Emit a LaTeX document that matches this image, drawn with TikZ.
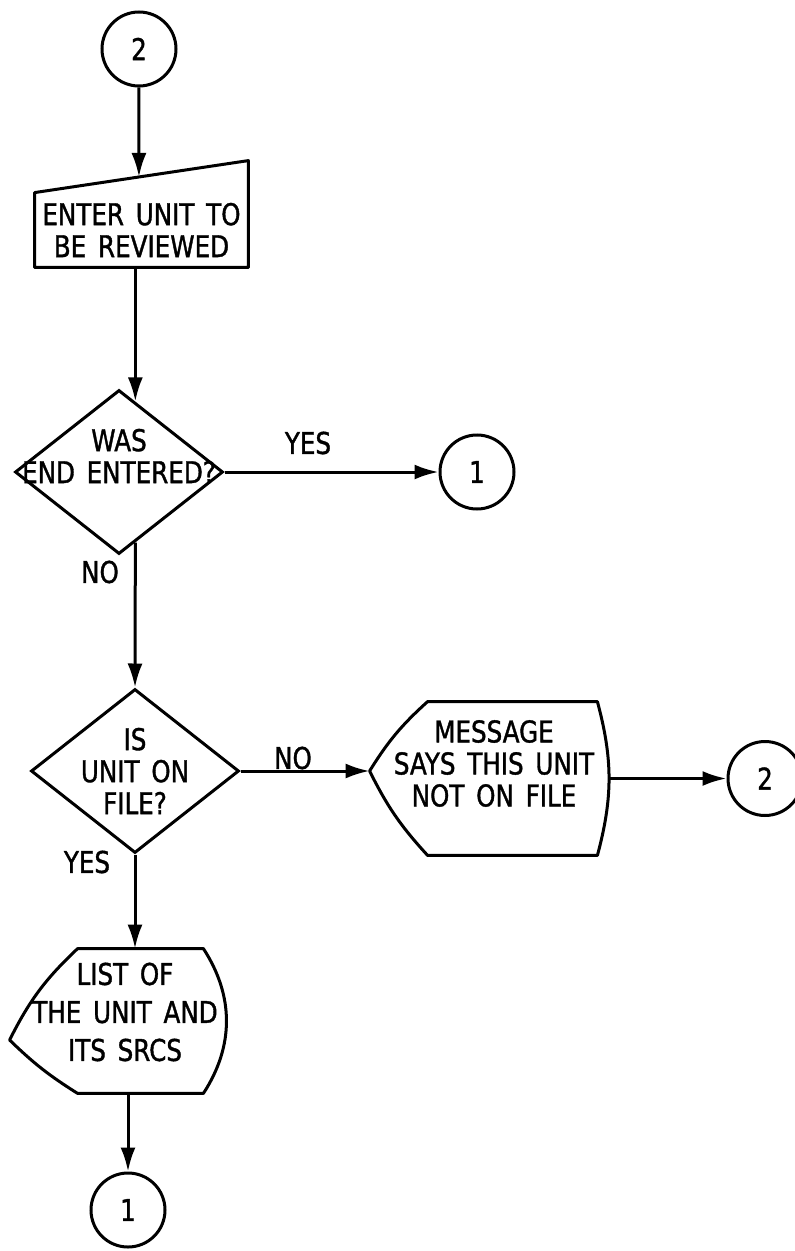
\documentclass[tikz,border=0pt]{standalone}
\usepackage{fontspec}
\newfontfamily\flowfont[FakeStretch=0.82,FakeBold=1.2,WordSpace=1.5]{DejaVu Sans}
\usetikzlibrary{arrows.meta,calc,shapes.geometric}

\begin{document}
\begin{tikzpicture}[x=0.5pt,y=0.5pt,
    flow/.style={-{Latex[length=12pt,width=7.5pt]}, line width=1.5pt},
    txt/.style={font=\flowfont\fontsize{15pt}{16pt}\selectfont, align=center, inner sep=0pt},
    conn/.style={txt, circle, draw, line width=1.5pt, minimum size=37pt},
    decision/.style={diamond, draw, line width=1.5pt, minimum width=104pt, minimum height=82pt, inner sep=0pt},
    outline/.style={line width=1.5pt, line join=round}]
  \useasboundingbox (0,0) rectangle (795,-1251);

  \node[conn] (top2) at (139,-49) {2};

  \node[txt, minimum width=106.5pt, minimum height=37pt] (enter) at (141.5,-230) {ENTER UNIT TO\\BE REVIEWED};
  \coordinate (enter-tr) at ($(enter.north east)+(0,32)$);
  \draw[outline] (enter.south west) -- (enter.north west) -- (enter-tr) -- (enter.south east) -- cycle;
  \coordinate (enter-in) at ($(enter.north west)!0.488!(enter-tr)$);

  \node[decision, label={[txt, yshift=8pt]center:WAS\\END ENTERED?}] (was) at (119,-472) {};
  \coordinate (was-in) at ($(was.north)!0.155!(was.east)$);
  \coordinate (was-out) at ($(was.south)!0.155!(was.east)$);
  \node[conn] (one-a) at (477,-472) {1};
  \node[txt] (yes-a) at (308,-443) {YES};
  \node[txt] (no-a) at (100,-572) {NO};

  \node[decision, label={[txt]center:IS\\UNIT ON\\FILE?}] (isunit) at (135,-771) {};
  \node[txt] (no-b) at (293,-758) {NO};
  \node[txt] (yes-b) at (87,-862) {YES};

  \node[minimum width=84.5pt, minimum height=76.5pt, inner sep=0pt,
    label={[txt, xshift=-9.25pt, yshift=7.5pt]center:MESSAGE\\SAYS THIS UNIT\\NOT ON FILE}] (msg) at (512.5,-778.5) {};
  \coordinate (msg-tip) at ($(msg.west)+(-58,7.5)$);
  \coordinate (msg-r) at ($(msg.east)+(13,0)$);
  \draw[outline] (msg.north west) to[bend right=8] (msg-tip) to[bend right=8] (msg.south west)
    -- (msg.south east) to[bend right=15] (msg.north east) -- cycle;
  \node[conn] (two-b) at (765,-778.5) {2};

  \node[minimum width=62.5pt, minimum height=72pt, inner sep=0pt,
    label={[txt, font=\flowfont\fontsize{15pt}{19pt}\selectfont, xshift=-7.75pt, yshift=4.5pt]center:LIST OF\\THE UNIT AND\\ITS SRCS}] (list) at (140.5,-1021) {};
  \coordinate (list-tip) at ($(list.west)+(-68,-19)$);
  \draw[outline] (list.north west) to[bend right=10] (list-tip) to[bend right=6] (list.south west)
    -- (list.south east) to[bend right=33] (list.north east) -- cycle;
  \node[conn] (one-b) at (128,-1210) {1};

  \draw[flow] (top2) -- (enter-in);
  \draw[flow] (enter.south -| was-in) -- (was-in);
  \draw[flow] (was.east) -- (one-a);
  \draw[flow] (was-out) -- (isunit.north);
  \draw[flow] (isunit.east) -- (msg-tip);
  \draw[flow] (msg-r) -- (two-b);
  \draw[flow] (isunit.south) -- (isunit.south |- list.north);
  \draw[flow] (one-b |- list.south) -- (one-b);
\end{tikzpicture}
\end{document}
